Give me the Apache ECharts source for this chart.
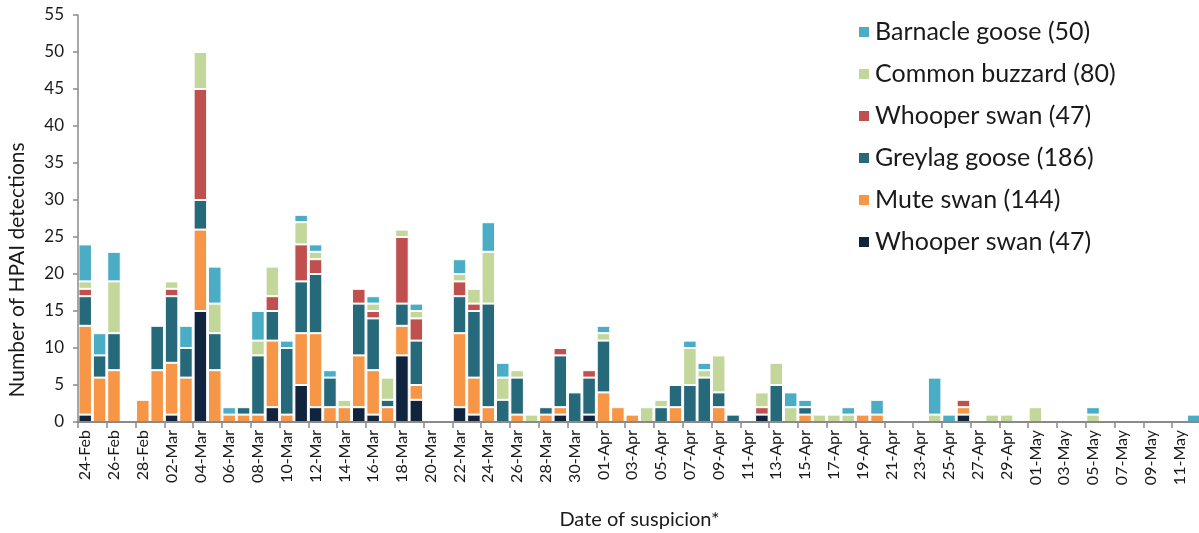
<!DOCTYPE html>
<html>
<head>
<meta charset="utf-8">
<script src="https://cdn.jsdelivr.net/npm/echarts@6/dist/echarts.min.js"></script>
<style>
html,body{margin:0;padding:0;background:#fff;}
#chart{width:1199px;height:533px;}
</style>
</head>
<body>
<div id="chart"></div>
<script>
const categories = [
 '24-Feb','25-Feb','26-Feb','27-Feb','28-Feb',
 '01-Mar','02-Mar','03-Mar','04-Mar','05-Mar','06-Mar','07-Mar','08-Mar','09-Mar','10-Mar',
 '11-Mar','12-Mar','13-Mar','14-Mar','15-Mar','16-Mar','17-Mar','18-Mar','19-Mar','20-Mar',
 '21-Mar','22-Mar','23-Mar','24-Mar','25-Mar','26-Mar','27-Mar','28-Mar','29-Mar','30-Mar','31-Mar',
 '01-Apr','02-Apr','03-Apr','04-Apr','05-Apr','06-Apr','07-Apr','08-Apr','09-Apr','10-Apr',
 '11-Apr','12-Apr','13-Apr','14-Apr','15-Apr','16-Apr','17-Apr','18-Apr','19-Apr','20-Apr',
 '21-Apr','22-Apr','23-Apr','24-Apr','25-Apr','26-Apr','27-Apr','28-Apr','29-Apr','30-Apr',
 '01-May','02-May','03-May','04-May','05-May','06-May','07-May','08-May','09-May','10-May',
 '11-May','12-May'
];

const whooperSwanDark = [
 1,0,0,0,0,0,1,0,15,0,
 0,0,0,2,0,5,2,0,0,2,
 1,0,9,3,0,0,2,1,0,0,
 0,0,0,1,0,1,0,0,0,0,
 0,0,0,0,0,0,0,1,0,0,
 0,0,0,0,0,0,0,0,0,0,
 0,1,0,0,0,0,0,0,0,0,
 0,0,0,0,0,0,0,0
];
const muteSwan = [
 12,6,7,0,3,7,7,6,11,7,
 1,1,1,9,1,7,10,2,2,7,
 6,2,4,2,0,0,10,5,2,0,
 1,0,1,1,0,0,4,2,1,0,
 0,2,0,0,2,0,0,0,0,0,
 1,0,0,0,1,1,0,0,0,0,
 0,1,0,0,0,0,0,0,0,0,
 0,0,0,0,0,0,0,0
];
const greylagGoose = [
 4,3,5,0,0,6,9,4,4,5,
 0,1,8,4,9,7,8,4,0,7,
 7,1,3,6,0,0,5,9,14,3,
 5,0,1,7,4,5,7,0,0,0,
 2,3,5,6,2,1,0,0,5,0,
 1,0,0,0,0,0,0,0,0,0,
 0,0,0,0,0,0,0,0,0,0,
 0,0,0,0,0,0,0,0
];
const whooperSwanRed = [
 1,0,0,0,0,0,1,0,15,0,
 0,0,0,2,0,5,2,0,0,2,
 1,0,9,3,0,0,2,1,0,0,
 0,0,0,1,0,1,0,0,0,0,
 0,0,0,0,0,0,0,1,0,0,
 0,0,0,0,0,0,0,0,0,0,
 0,1,0,0,0,0,0,0,0,0,
 0,0,0,0,0,0,0,0
];
const commonBuzzard = [
 1,0,7,0,0,0,1,0,5,4,
 0,0,2,4,0,3,1,0,1,0,
 1,3,1,1,0,0,1,2,7,3,
 1,1,0,0,0,0,1,0,0,2,
 1,0,5,1,5,0,0,2,3,2,
 0,1,1,1,0,0,0,0,0,1,
 0,0,0,1,1,0,2,0,0,0,
 1,0,0,0,0,0,0,0
];
const barnacleGoose = [
 5,3,4,0,0,0,0,3,0,5,
 1,0,4,0,1,1,1,1,0,0,
 1,0,0,1,0,0,2,0,4,2,
 0,0,0,0,0,0,1,0,0,0,
 0,0,1,1,0,0,0,0,0,2,
 1,0,0,1,0,2,0,0,0,5,
 1,0,0,0,0,0,0,0,0,0,
 1,0,0,0,0,0,0,1
];

const yTicks = {min: 0, max: 55, interval: 5};

const seriesDefs = [
 {name: 'Whooper swan (47)',   data: whooperSwanDark, color: '#10243e'},
 {name: 'Mute swan (144)',     data: muteSwan,        color: '#f79646'},
 {name: 'Greylag goose (186)', data: greylagGoose,    color: '#25697a'},
 {name: 'Whooper swan (47) ',  data: whooperSwanRed,  color: '#c0504d'},
 {name: 'Common buzzard (80)', data: commonBuzzard,   color: '#c4d79b'},
 {name: 'Barnacle goose (50)', data: barnacleGoose,   color: '#4bacc6'}
];

const FONT = 'Lato';
const TXT = '#1a1a1a';
const AX = '#8a8a8a';

const chart = echarts.init(document.getElementById('chart'), null, {renderer: 'canvas'});
chart.setOption({
  animation: false,
  backgroundColor: '#fff',
  textStyle: {fontFamily: FONT},
  grid: {left: 78, right: -2, top: 15, bottom: 111, containLabel: false, outerBoundsMode: 'none'},
  legend: {
    orient: 'vertical',
    left: 852,
    top: 13,
    itemWidth: 12,
    itemHeight: 12,
    itemGap: 14,
    icon: 'rect',
    data: seriesDefs.slice().reverse().map(s => s.name),
    textStyle: {fontFamily: FONT, fontSize: 25, color: TXT, lineHeight: 28}
  },
  graphic: [{
    type: 'text',
    x: 17,
    y: 270,
    rotation: Math.PI / 2,
    style: {
      text: 'Number of HPAI detections',
      fontFamily: FONT,
      fontSize: 21,
      fill: TXT,
      align: 'center',
      verticalAlign: 'middle'
    }
  }],
  xAxis: {
    type: 'category',
    data: categories,
    z: 5,
    boundaryGap: true,
    name: 'Date of suspicion*',
    nameLocation: 'middle',
    nameGap: 88,
    nameTextStyle: {fontFamily: FONT, fontSize: 20, color: TXT},
    axisLine: {lineStyle: {color: AX, width: 2}},
    axisTick: {show: true, interval: 1, length: 6, lineStyle: {color: AX, width: 1.5}},
    axisLabel: {interval: 1, rotate: 90, fontFamily: FONT, fontSize: 16, color: TXT, margin: 8}
  },
  yAxis: {
    type: 'value',
    min: yTicks.min, max: yTicks.max, interval: yTicks.interval,
    z: 5,
    axisLine: {show: true, lineStyle: {color: AX, width: 1.5}},
    axisTick: {show: true, length: 5, lineStyle: {color: AX, width: 1.5}},
    splitLine: {show: false},
    axisLabel: {fontFamily: FONT, fontSize: 17, color: TXT, margin: 14}
  },
  series: seriesDefs.map(s => ({
    name: s.name,
    type: 'bar',
    stack: 'total',
    barCategoryGap: '6%',
    data: s.data.map(v => v === 0 ? null : v),
    itemStyle: {color: s.color, borderColor: '#ffffff', borderWidth: 1}
  }))
});
</script>
</body>
</html>
